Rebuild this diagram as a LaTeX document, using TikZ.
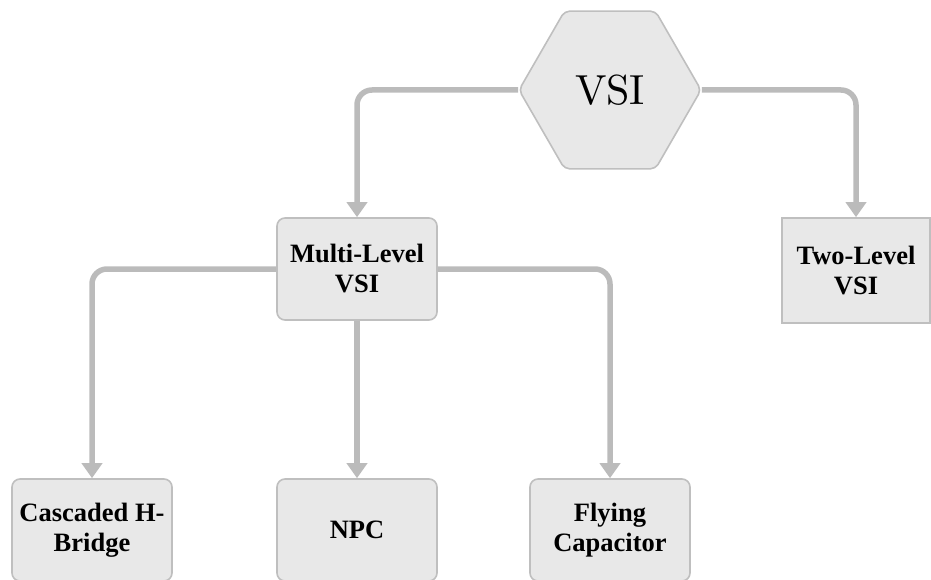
\documentclass[tikz,border=0pt]{standalone}
\usepackage{fontspec}
\newfontfamily\boxfont{Liberation Serif}
\newfontfamily\hexfont{lmroman10-regular.otf}
\usetikzlibrary{shapes.geometric,arrows.meta}

\definecolor{boxfill}{HTML}{E8E8E8}
\definecolor{boxline}{HTML}{BFBFBF}
\definecolor{linkgray}{HTML}{BBBBBB}

\tikzset{
  block/.style={draw=boxline, fill=boxfill, line width=1.6pt,
    rounded corners=8pt, minimum width=160pt, minimum height=102pt,
    align=center, inner sep=2pt,
    font=\boxfont\bfseries\fontsize{26.5pt}{30pt}\selectfont},
  sharpblock/.style={block, rounded corners=0pt},
  hexnode/.style={regular polygon, regular polygon sides=6,
    draw=boxline, fill=boxfill, line width=1.6pt, rounded corners=5pt,
    minimum size=182pt, inner sep=0pt,
    font=\hexfont\fontsize{42pt}{42pt}\selectfont},
  link/.style={draw=linkgray, line width=5.5pt, rounded corners=15pt,
    -{Triangle[width=20pt,length=15pt]}},
}

\begin{document}
\begin{tikzpicture}[x=1pt, y=-1pt]
  \useasboundingbox (0,0) rectangle (931,580);

  % root and first level
  \node[hexnode] (vsi) at (610,90) {VSI};
  \node[block] (ml) at (357,269) {Multi-Level\\VSI};
  \node[sharpblock, minimum width=148pt, minimum height=105pt] (tl) at (856,270.5) {Two-Level\\VSI};

  % multi-level topologies
  \node[block] (chb) at (92,530) {Cascaded H-\\Bridge};
  \node[block] (npc) at (357,530) {NPC};
  \node[block] (fc) at (610,530) {Flying\\Capacitor};

  % connectors
  \draw[link] (vsi.west) -| (ml.north);
  \draw[link] (vsi.east) -| (tl.north);
  \draw[link] (ml.west) -| (chb.north);
  \draw[link] (ml.east) -| (fc.north);
  \draw[link] (ml.south) -- (npc.north);
\end{tikzpicture}
\end{document}
